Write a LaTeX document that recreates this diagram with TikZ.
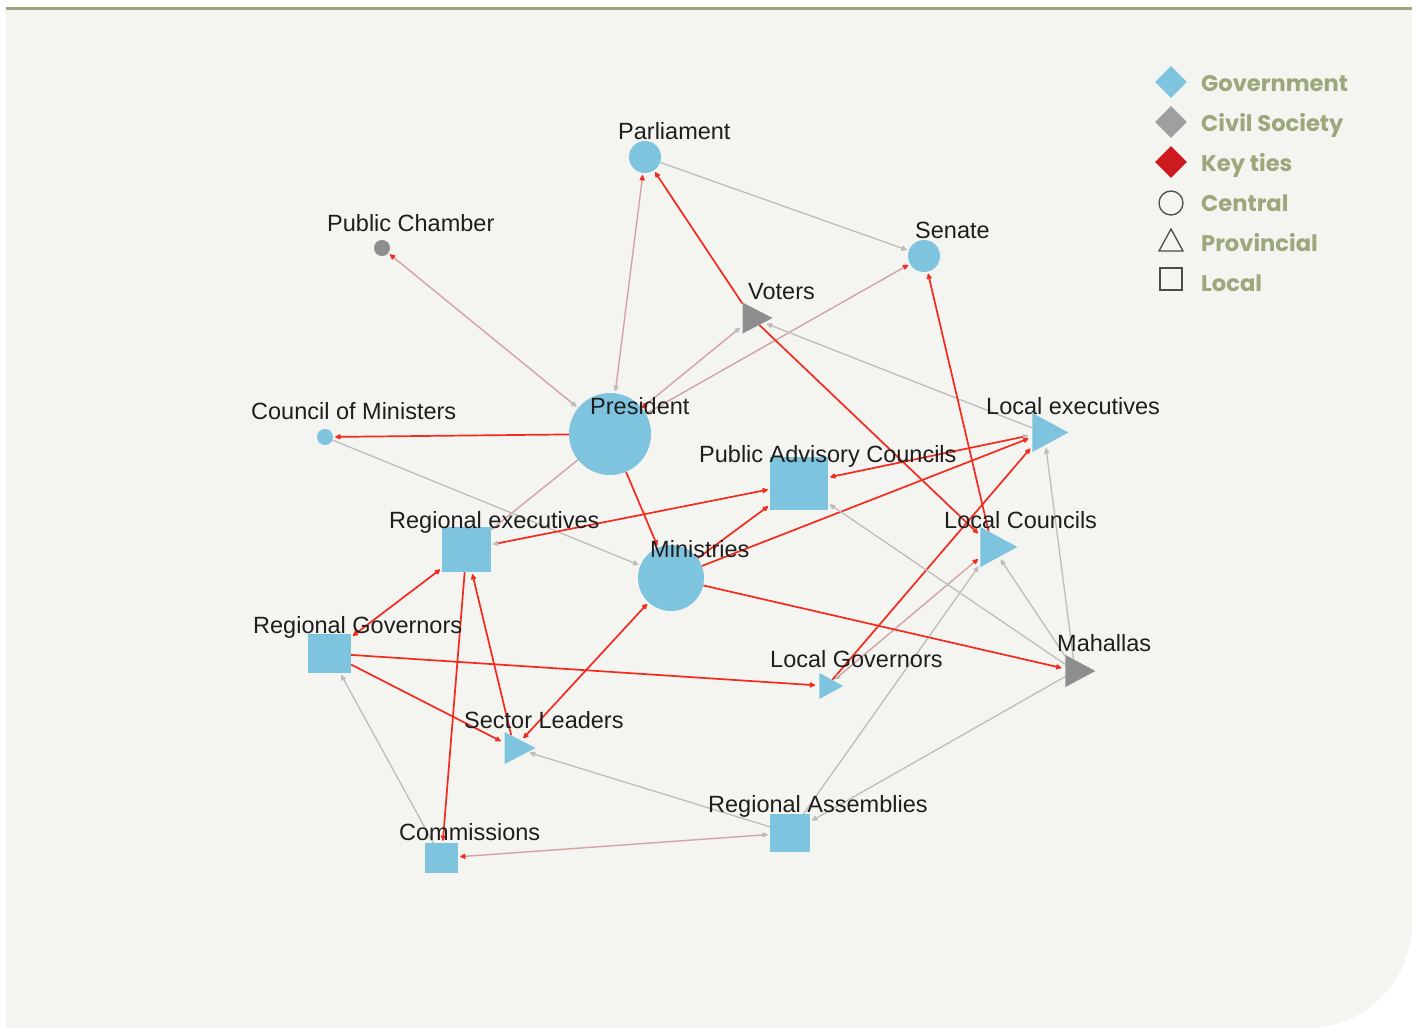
\documentclass[tikz,border=0pt]{standalone}
\usepackage{fontspec}
\setmainfont{Liberation Sans}
\newfontfamily\legendfont{Poppins}
\usetikzlibrary{arrows.meta,shapes.geometric}

\definecolor{panel}{HTML}{F4F4F0}
\definecolor{rule}{HTML}{9DA67C}
\definecolor{legendtext}{HTML}{9CA77C}
\definecolor{govblue}{HTML}{7EC4DE}
\definecolor{civgray}{HTML}{8E8E8E}
\definecolor{keyred}{HTML}{F52A1E}
\definecolor{legred}{HTML}{CC1A1F}
\definecolor{tiegray}{HTML}{BDBDBD}
\definecolor{mixpink}{HTML}{D4A3A3}
\definecolor{labeltext}{HTML}{1E1E1E}

\pgfdeclarelayer{backdrop}
\pgfdeclarelayer{edges}
\pgfsetlayers{backdrop,edges,main}

\tikzset{
  x=1pt, y=-1pt,
  central/.style={circle, inner sep=0pt, minimum size=#1, fill=govblue, draw=none},
  localsq/.style 2 args={rectangle, inner sep=0pt, minimum width=#1, minimum height=#2, fill=govblue, draw=none},
  provtri/.style 2 args={isosceles triangle, isosceles triangle stretches, inner sep=0pt,
     minimum width=#2, minimum height=#1, fill=govblue, draw=none},
  civil/.style={fill=civgray},
  lbl/.style={anchor=base west, inner sep=0pt, text=labeltext,
     font=\fontsize{23.5}{28}\selectfont},
  keytie/.style={draw=keyred, line width=1.7pt},
  plaintie/.style={draw=tiegray, line width=1.3pt},
  mixtie/.style={draw=mixpink, line width=1.4pt},
  rh/.tip={Latex[round, color=keyred, length=7pt, width=6.5pt]},
  gh/.tip={Latex[round, color=tiegray, length=7pt, width=6.5pt]},
  legtxt/.style={anchor=base west, inner sep=0pt, text=legendtext,
     font=\legendfont\bfseries\fontsize{22.6}{28}\selectfont},
}

\begin{document}
\begin{tikzpicture}
\useasboundingbox (0,0) rectangle (1416,1028);

% panel with rounded lower-right corner and top rule
\begin{pgfonlayer}{backdrop}
\fill[panel] (6,9) -- (1412,9) -- (1412,923)
   .. controls (1412,981) and (1365,1028) .. (1307,1028) -- (6,1028) -- cycle;
\draw[rule, line width=3pt] (6,8.5) -- (1412,8.5);
\end{pgfonlayer}

% ---- network nodes (triangles placed by their centroid) ----
\node[central=32pt] (parl) at (645,157) {};
\node[central=32pt] (sen) at (924,256) {};
\node[central=16pt, civil] (pch) at (382,248) {};
\node[provtri={30pt}{31pt}, civil] (vot) at (752,318) {};
\node[central=82pt] (pres) at (610,434) {};
\node[central=16pt] (com) at (325,437) {};
\node[provtri={36pt}{39pt}] (lex) at (1044,432.5) {};
\node[localsq={58pt}{53pt}] (pac) at (799,483.5) {};
\node[provtri={37pt}{40pt}] (lco) at (992.3,547) {};
\node[localsq={49pt}{45pt}] (rex) at (466.5,549.5) {};
\node[central=66pt] (min) at (671,578) {};
\node[localsq={43pt}{39pt}] (rgo) at (329.5,653.5) {};
\node[provtri={31pt}{32pt}] (sec) at (514.3,748) {};
\node[provtri={24pt}{26pt}] (lgo) at (827,686) {};
\node[provtri={30pt}{32pt}, civil] (mah) at (1075,671) {};
\node[localsq={40pt}{38pt}] (ras) at (790,833) {};
\node[localsq={33pt}{30pt}] (cms) at (441.5,858) {};

% ---- ties ----
\begin{pgfonlayer}{edges}
\draw[plaintie, -gh, shorten >=2pt] (parl) -- (sen);
\draw[mixtie, gh-rh, shorten >=2pt, shorten <=2pt] (pres) -- (parl);
\draw[keytie, -rh, shorten >=2pt] (vot) -- (parl);
\draw[mixtie, -rh, shorten >=2pt] (pres) -- (sen);
\draw[mixtie, rh-gh, shorten >=3pt] (pres) -- (vot);
\draw[keytie, -rh, shorten >=3pt] (vot) -- (lco);
\draw[plaintie, -gh, shorten >=3pt] (lex) -- (vot);
\draw[keytie, -rh, shorten >=2pt] (lco) -- (sen);
\draw[mixtie, gh-rh, shorten >=2pt, shorten <=2pt] (pres) -- (pch);
\draw[keytie, -rh, shorten >=2pt] (pres) -- (com);
\draw[plaintie, -gh, shorten >=2pt] (com) -- (min);
\draw[mixtie] (pres) -- (rex);
\draw[keytie, -rh, shorten >=2pt] (pres) -- (min);
\draw[keytie, gh-rh, shorten >=2pt, shorten <=4pt] (lex) -- (pac);
\draw[keytie, gh-rh, shorten >=2pt, shorten <=2pt] (rex) -- (pac);
\draw[keytie, -rh, shorten >=2pt] (min) -- (pac);
\draw[keytie, -rh, shorten >=4pt] (min) -- (lex);
\draw[keytie, -rh, shorten >=3pt] (lgo) -- (lex);
\draw[mixtie, gh-rh, shorten >=3pt, shorten <=2pt] (lgo) -- (lco);
\draw[plaintie, -gh, shorten >=3pt] (ras) -- (lco);
\draw[plaintie, -gh, shorten >=3pt] (mah) -- (lco);
\draw[plaintie, -gh, shorten >=3pt] (mah) -- (lex);
\draw[plaintie, -gh, shorten >=2pt] (mah) -- (pac);
\draw[keytie, -rh, shorten >=4pt] (min) -- (mah);
\draw[keytie, rh-rh, shorten >=2pt, shorten <=2pt] (rgo) -- (rex);
\draw[keytie, -rh, shorten >=4pt] (rgo) -- (lgo);
\draw[keytie, -rh, shorten >=4pt] (rgo) -- (sec);
\draw[keytie, -rh, shorten >=2pt] (rex) -- (cms);
\draw[keytie, -rh, shorten >=2pt] (sec) -- (rex);
\draw[keytie, rh-rh, shorten >=3pt, shorten <=2pt] (min) -- (sec);
\draw[plaintie, -gh, shorten >=2pt] (ras) -- (sec);
\draw[mixtie, gh-rh, shorten >=2pt, shorten <=2pt] (ras) -- (cms);
\draw[plaintie, -gh, shorten >=2pt] (cms) -- (rgo);
\draw[plaintie, -gh, shorten >=2pt] (mah) -- (ras);
\end{pgfonlayer}

% ---- node labels ----
\node[lbl] (parl-l) at (618,139) {Parliament};
\node[lbl] (sen-l) at (915,238) {Senate};
\node[lbl] (pch-l) at (327,231) {Public Chamber};
\node[lbl] (vot-l) at (748,299) {Voters};
\node[lbl] (pres-l) at (590,414) {President};
\node[lbl] (com-l) at (251,419) {Council of Ministers};
\node[lbl] (lex-l) at (986,414) {Local executives};
\node[lbl] (pac-l) at (699,462) {Public Advisory Councils};
\node[lbl] (lco-l) at (944,528) {Local Councils};
\node[lbl] (rex-l) at (389,528) {Regional executives};
\node[lbl] (min-l) at (650,557) {Ministries};
\node[lbl] (rgo-l) at (253,633) {Regional Governors};
\node[lbl] (lgo-l) at (770,667) {Local Governors};
\node[lbl] (mah-l) at (1057,651) {Mahallas};
\node[lbl] (sec-l) at (464,728) {Sector Leaders};
\node[lbl] (ras-l) at (708,812) {Regional Assemblies};
\node[lbl] (cms-l) at (399,840) {Commissions};

% ---- legend ----
\node[diamond, inner sep=0pt, minimum size=32pt, fill=govblue] (lg-gov) at (1171,82) {};
\node[diamond, inner sep=0pt, minimum size=32pt, fill=civgray!85] (lg-civ) at (1171,122) {};
\node[diamond, inner sep=0pt, minimum size=32pt, fill=legred] (lg-key) at (1171,162) {};
\node[circle, inner sep=0pt, minimum size=24pt, draw=black!70, line width=1.3pt] (lg-cen) at (1171,203) {};
\draw[black!70, line width=1.3pt, line join=miter] (1159,251) -- (1171,229) -- (1183,251) -- cycle;
\node[rectangle, inner sep=0pt, minimum size=22pt, draw=black!70, line width=1.3pt] (lg-loc) at (1171,279) {};
\node[legtxt] (lt-gov) at (1201,91) {Government};
\node[legtxt] (lt-civ) at (1201,131) {Civil Society};
\node[legtxt] (lt-key) at (1201,171) {Key ties};
\node[legtxt] (lt-cen) at (1201,211) {Central};
\node[legtxt] (lt-pro) at (1201,251) {Provincial};
\node[legtxt] (lt-loc) at (1201,291) {Local};
\end{tikzpicture}
\end{document}
